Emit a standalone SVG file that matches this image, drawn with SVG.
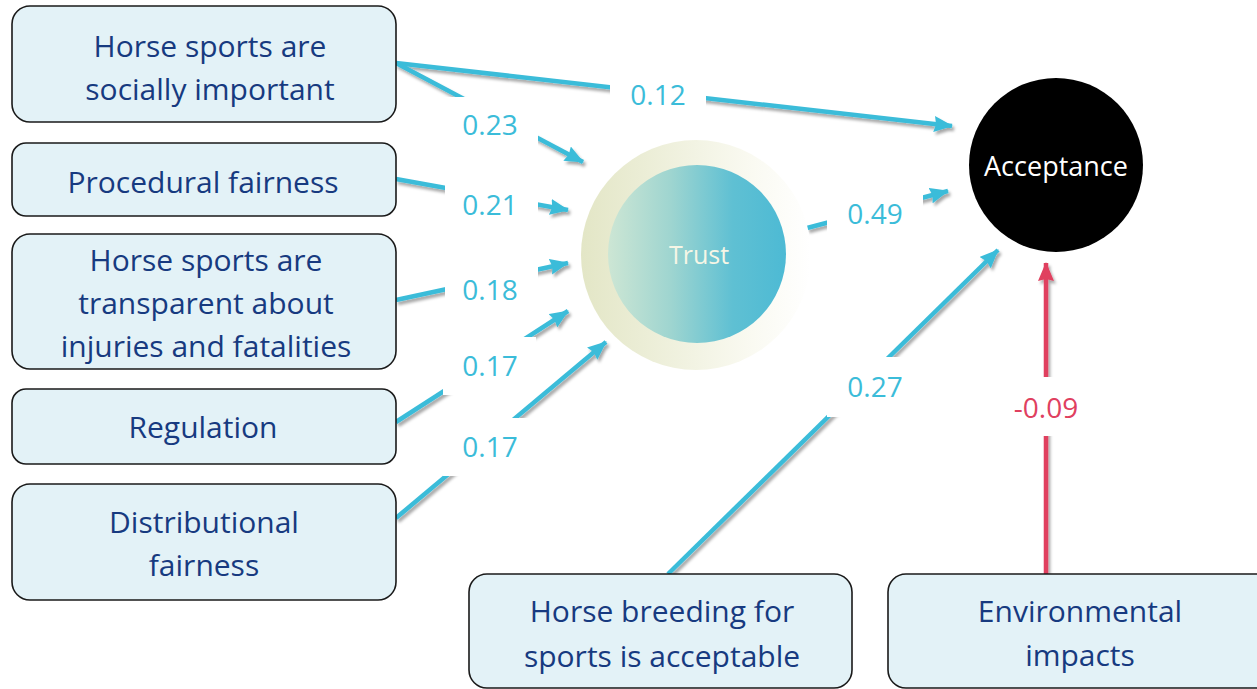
<svg xmlns="http://www.w3.org/2000/svg" width="1257" height="689" viewBox="0 0 1257 689">
<style>
.box{fill:#e3f2f7;stroke:#1a1a1a;stroke-width:1.6}
.bt{font-family:"Open Sans","Liberation Sans",sans-serif;font-size:30px;fill:#173a80;text-anchor:middle}
.ln{stroke:#3bbcd9;stroke-width:4.5;fill:none;marker-end:url(#ab)}
.lr{stroke:#e0405f;stroke-width:4.5;fill:none;marker-end:url(#ar)}
.lb{font-family:"Open Sans","Liberation Sans",sans-serif;font-size:28px;fill:#3bbcd9;text-anchor:middle}
.bg{fill:#ffffff}
</style>
<defs>
<marker id="ab" markerUnits="userSpaceOnUse" markerWidth="19" markerHeight="16" refX="18" refY="8" orient="auto"><path d="M0,0 L19,8 L0,16 L2,8 z" fill="#3bbcd9"/></marker>
<marker id="ar" markerUnits="userSpaceOnUse" markerWidth="19" markerHeight="16" refX="18" refY="8" orient="auto"><path d="M0,0 L19,8 L0,16 L2,8 z" fill="#e0405f"/></marker>
<filter id="sh" x="-10%" y="-10%" width="120%" height="120%"><feDropShadow dx="2" dy="3" stdDeviation="1.5" flood-color="#000" flood-opacity="0.35"/></filter>
<linearGradient id="go" x1="0" y1="0" x2="1" y2="0"><stop offset="0" stop-color="#e3e6c6"/><stop offset="0.75" stop-color="#fafaf2"/><stop offset="1" stop-color="#ffffff"/></linearGradient>
<linearGradient id="gi" x1="0" y1="0" x2="1" y2="0"><stop offset="0" stop-color="#cde6d4"/><stop offset="0.35" stop-color="#9fd5d0"/><stop offset="0.7" stop-color="#5fc0d3"/><stop offset="1" stop-color="#4dbad4"/></linearGradient>
</defs>
<rect width="1257" height="689" fill="#ffffff"/>
<g id="connectors" filter="url(#sh)">
<line class="ln" x1="396" y1="63" x2="952" y2="126"/>
<line class="ln" x1="396" y1="63" x2="583" y2="162"/>
<line class="ln" x1="396" y1="179" x2="568" y2="210"/>
<line class="ln" x1="396" y1="300" x2="568" y2="263"/>
<line class="ln" x1="396" y1="422" x2="568" y2="311"/>
<line class="ln" x1="396" y1="518" x2="606" y2="342"/>
<line class="ln" x1="807" y1="228" x2="948" y2="191"/>
<line class="ln" x1="668" y1="574" x2="998" y2="250"/>
<line class="lr" x1="1046" y1="574" x2="1046" y2="263"/>
</g>
<g id="labels">
<rect class="bg" x="610" y="67" width="96" height="56"/>
<text class="lb" x="658" y="105">0.12</text>
<rect class="bg" x="445" y="97" width="93" height="56"/>
<text class="lb" x="490" y="135">0.23</text>
<rect class="bg" x="445" y="177" width="93" height="56"/>
<text class="lb" x="490" y="215">0.21</text>
<rect class="bg" x="445" y="262" width="93" height="56"/>
<text class="lb" x="490" y="300">0.18</text>
<rect class="bg" x="443" y="337" width="93" height="58"/>
<text class="lb" x="490" y="376">0.17</text>
<rect class="bg" x="443" y="418" width="93" height="58"/>
<text class="lb" x="490" y="457">0.17</text>
<rect class="bg" x="827" y="186" width="96" height="56"/>
<text class="lb" x="875" y="224">0.49</text>
<rect class="bg" x="827" y="357" width="96" height="60"/>
<text class="lb" x="875" y="397">0.27</text>
<rect class="bg" x="1008" y="377" width="76" height="59"/>
<text class="lb" x="1046" y="418" style="fill:#e0405f">-0.09</text>
</g>
<g id="node-social">
<rect class="box" x="12" y="6" width="384" height="116" rx="18"/>
<text class="bt" x="210" y="57">Horse sports are</text>
<text class="bt" x="210" y="100">socially important</text>
</g>
<g id="node-procedural">
<rect class="box" x="12" y="143" width="384" height="73" rx="14"/>
<text class="bt" x="203" y="193">Procedural fairness</text>
</g>
<g id="node-transparent">
<rect class="box" x="12" y="234" width="384" height="135" rx="18"/>
<text class="bt" x="206" y="271">Horse sports are</text>
<text class="bt" x="206" y="314">transparent about</text>
<text class="bt" x="206" y="357">injuries and fatalities</text>
</g>
<g id="node-regulation">
<rect class="box" x="12" y="389" width="384" height="75" rx="14"/>
<text class="bt" x="203" y="438">Regulation</text>
</g>
<g id="node-distributional">
<rect class="box" x="12" y="484" width="384" height="116" rx="18"/>
<text class="bt" x="204" y="533">Distributional</text>
<text class="bt" x="204" y="576">fairness</text>
</g>
<g id="node-breeding">
<rect class="box" x="469" y="574" width="383" height="114" rx="18"/>
<text class="bt" x="662" y="622">Horse breeding for</text>
<text class="bt" x="662" y="667">sports is acceptable</text>
</g>
<g id="node-environmental">
<rect class="box" x="888" y="574" width="390" height="114" rx="18"/>
<text class="bt" x="1080" y="622">Environmental</text>
<text class="bt" x="1080" y="666">impacts</text>
</g>
<g id="node-trust">
<circle cx="696" cy="255" r="115" fill="url(#go)"/>
<circle cx="697" cy="254" r="89" fill="url(#gi)"/>
<text x="699" y="264" font-family="'Open Sans','Liberation Sans',sans-serif" font-size="25" fill="#f6f6e6" text-anchor="middle">Trust</text>
</g>
<g id="node-acceptance">
<circle cx="1056" cy="165" r="87" fill="#000000"/>
<text x="1056" y="176" font-family="'Open Sans','Liberation Sans',sans-serif" font-size="27" fill="#ffffff" text-anchor="middle">Acceptance</text>
</g>
</svg>
